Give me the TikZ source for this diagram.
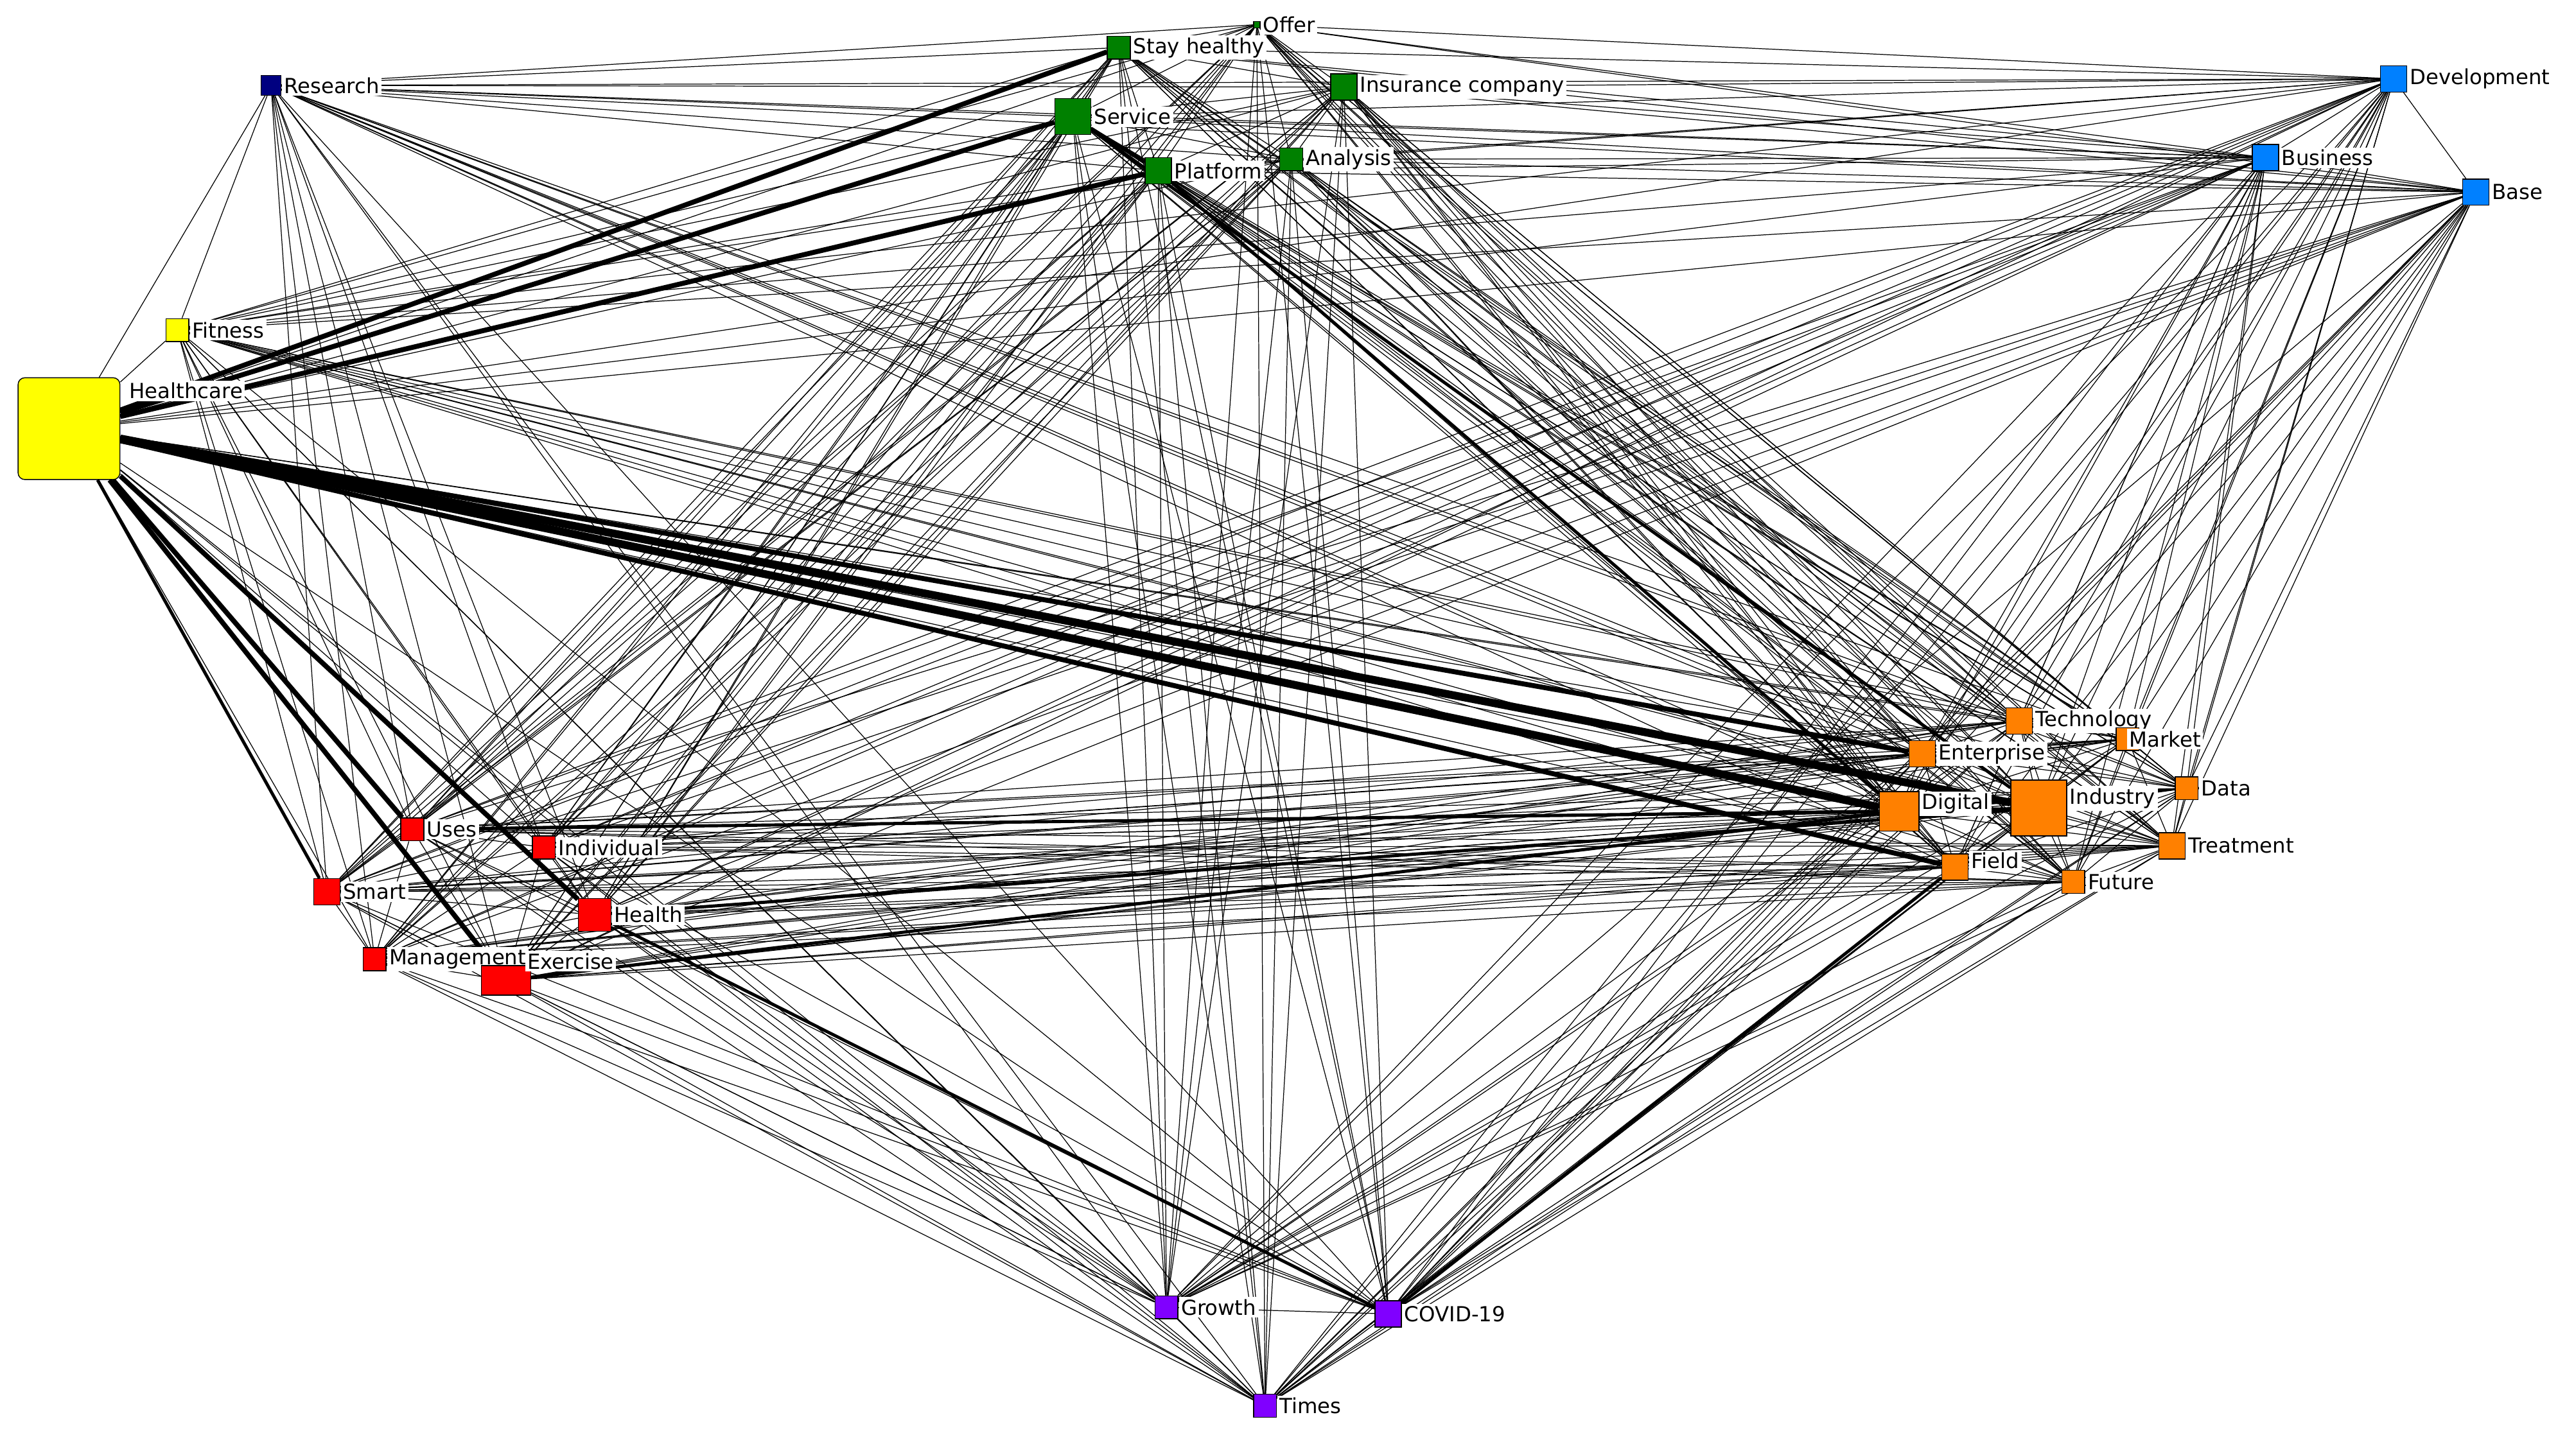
\documentclass[tikz,border=0pt]{standalone}
\usepackage{fontspec}
\setmainfont{DejaVu Sans}
\usetikzlibrary{backgrounds}
\begin{document}
\begin{tikzpicture}[x=0.02558cm,y=-0.02558cm,
  sq/.style={draw=black,line width=0.4pt,inner sep=0pt,minimum size=#1*0.02558cm},
  lb/.style={fill=white,inner sep=1pt,font=\fontsize{9.2}{11}\selectfont},
  e/.style={line width=0.35pt},
  th/.style={line width=2.2pt}]
\useasboundingbox (0,0) rectangle (1568,878);
\definecolor{gr}{RGB}{0,128,0}
\definecolor{bl}{RGB}{0,128,255}
\definecolor{nv}{RGB}{0,0,128}
\definecolor{yl}{RGB}{255,255,0}
\definecolor{or}{RGB}{255,128,0}
\definecolor{rd}{RGB}{255,0,0}
\definecolor{pu}{RGB}{128,0,255}
% nodes
\node[sq=12,fill=nv,label={[lb]right:Research}] (research) at (165,52) {};
\node[sq=14,fill=gr,label={[lb]right:Stay healthy}] (stay) at (681,29) {};
\node[sq=4,fill=gr,label={[lb]right:Offer}] (offer) at (765,15) {};
\node[sq=16,fill=gr,label={[lb]right:Insurance company}] (ins) at (818,53) {};
\node[sq=22,fill=gr,label={[lb]right:Service}] (service) at (653,71) {};
\node[sq=16,fill=gr,label={[lb]right:Platform}] (platform) at (705,104) {};
\node[sq=14,fill=gr,label={[lb]right:Analysis}] (analysis) at (786,97) {};
\node[sq=16,fill=bl,label={[lb]right:Development}] (dev) at (1457,48) {};
\node[sq=16,fill=bl,label={[lb]right:Business}] (business) at (1379,96) {};
\node[sq=16,fill=bl,label={[lb]right:Base}] (base) at (1507,117) {};
\node[sq=14,fill=yl,label={[lb]right:Fitness}] (fitness) at (108,201) {};
\node[sq=62,fill=yl,rounded corners=3pt,label={[lb,xshift=0.1cm,yshift=-0.38cm]north east:Healthcare}] (health care) at (42,261) {};
\node[sq=16,fill=or,label={[lb]right:Technology}] (tech) at (1229,439) {};
\node[sq=14,fill=or,label={[lb,xshift=-0.2cm]right:Market}] (market) at (1295,450) {};
\node[sq=16,fill=or,label={[lb]right:Enterprise}] (ent) at (1170,459) {};
\node[sq=14,fill=or,label={[lb]right:Data}] (data) at (1331,480) {};
\node[sq=24,fill=or,label={[lb,yshift=0.12cm]right:Digital}] (digital) at (1156,494) {};
\node[sq=34,fill=or,label={[lb,yshift=0.15cm]right:Industry}] (industry) at (1241,492) {};
\node[sq=16,fill=or,label={[lb]right:Treatment}] (treat) at (1322,515) {};
\node[sq=16,fill=or,label={[lb,yshift=0.1cm]right:Field}] (field) at (1190,528) {};
\node[sq=14,fill=or,label={[lb]right:Future}] (future) at (1262,537) {};
\node[sq=14,fill=rd,label={[lb]right:Uses}] (uses) at (251,505) {};
\node[sq=14,fill=rd,label={[lb]right:Individual}] (indiv) at (331,516) {};
\node[sq=16,fill=rd,label={[lb]right:Smart}] (smart) at (199,543) {};
\node[sq=20,fill=rd,label={[lb]right:Health}] (health) at (362,557) {};
\node[sq=14,fill=rd,label={[lb]right:Management}] (mgmt) at (228,584) {};
\node[draw,fill=rd,inner sep=0pt,minimum width=30*0.02558cm,minimum height=18*0.02558cm,label={[lb,xshift=-0.1cm,yshift=0.3cm]right:Exercise}] (exercise) at (308,597) {};
\node[sq=14,fill=pu,label={[lb]right:Growth}] (growth) at (710,796) {};
\node[sq=16,fill=pu,label={[lb]right:COVID-19}] (covid) at (845,800) {};
\node[sq=14,fill=pu,label={[lb]right:Times}] (times) at (770,856) {};
\begin{scope}[on background layer]
\foreach \a [count=\i] in {research,stay,offer,ins,service,platform,analysis,dev,business,base,fitness,health care,tech,market,ent,data,digital,industry,treat,field,future,uses,indiv,smart,health,mgmt,exercise,growth,covid,times}{
  \foreach \b [count=\j] in {research,stay,offer,ins,service,platform,analysis,dev,business,base,fitness,health care,tech,market,ent,data,digital,industry,treat,field,future,uses,indiv,smart,health,mgmt,exercise,growth,covid,times}{
    \ifnum\j>\i \draw[e] (\a) -- (\b); \fi
  }
}
\draw[line width=3.5pt] (health care) -- (digital);
\draw[line width=3.5pt] (health care) -- (industry);
\draw[th] (health care) -- (ent);
\draw[th] (health care) -- (field);
\draw[th] (health care) -- (service);
\draw[th] (health care) -- (platform);
\draw[th] (health care) -- (stay);
\draw[th] (health care) -- (exercise);
\draw[th] (health care) -- (health);
\draw[th] (health care) -- (uses);
\draw[line width=1.4pt] (health care) -- (smart);
\draw[line width=1.4pt] (platform) -- (digital);
\draw[line width=1.4pt] (service) -- (industry);
\draw[line width=1.4pt] (service) -- (platform);
\draw[line width=1.4pt] (health) -- (industry);
\draw[line width=1.4pt] (exercise) -- (digital);
\draw[line width=1.4pt] (uses) -- (digital);
\draw[line width=1.4pt] (covid) -- (field);
\draw[line width=1.4pt] (health) -- (covid);
\draw[line width=1.4pt] (digital) -- (industry);
\end{scope}
\end{tikzpicture}
\end{document}
